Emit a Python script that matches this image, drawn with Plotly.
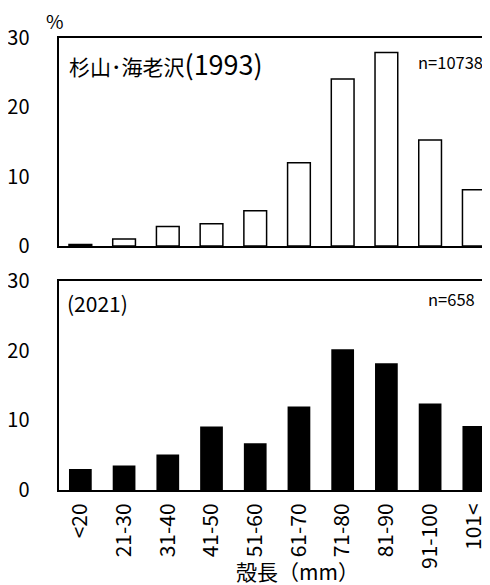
import plotly.graph_objects as go

categories = ["<20", "21-30", "31-40", "41-50", "51-60", "61-70", "71-80", "81-90", "91-100", "101<"]
values_1993 = [0.2, 1.0, 2.8, 3.2, 5.1, 12.0, 24.1, 27.9, 15.3, 8.1]
values_2021 = [3.0, 3.5, 5.1, 9.1, 6.7, 12.0, 20.2, 18.2, 12.4, 9.2]
y_ticks = [0, 10, 20, 30]

# page body has an 8px margin; figure sized to fill the remaining window
OFF = 8
W, H = 490 - OFF, 585 - OFF
FONT = "Noto Sans CJK JP, Noto Sans, sans-serif"

def px(x):
    return (x - OFF) / W

def py(y):
    return 1 - (y - OFF) / H

fig = go.Figure()
fig.add_trace(go.Bar(x=categories, y=values_1993, xaxis="x", yaxis="y",
                     marker=dict(color="white", line=dict(color="black", width=1.5)),
                     showlegend=False))
fig.add_trace(go.Bar(x=categories, y=values_2021, xaxis="x2", yaxis="y2",
                     marker=dict(color="black", line=dict(color="black", width=0)),
                     showlegend=False))

xrange = [-0.5, 9.37]
common_x = dict(type="category", range=xrange, showline=True, linecolor="black", linewidth=2,
                mirror=True, showgrid=False, ticks="", zeroline=False, automargin=False)
common_y = dict(range=[0, 30], tickvals=y_ticks, showline=True, linecolor="black", linewidth=2,
                showgrid=False, ticks="", zeroline=False, ticklabelstandoff=23, automargin=False,
                tickfont=dict(size=20, color="black", family=FONT))

fig.update_layout(
    width=W, height=H,
    margin=dict(l=0, r=0, t=0, b=0),
    paper_bgcolor="white", plot_bgcolor="white",
    bargap=0.48,
    font=dict(family=FONT, color="black"),
    xaxis=dict(domain=[px(58.5), 1], anchor="y", showticklabels=False, **common_x),
    yaxis=dict(domain=[py(246), py(38)], anchor="x", **common_y),
    xaxis2=dict(domain=[px(58.5), 1], anchor="y2", showticklabels=True, tickangle=-90,
                ticklabelstandoff=3,
                tickfont=dict(size=21, color="black", family=FONT), **common_x),
    yaxis2=dict(domain=[py(490), py(281)], anchor="x2", **common_y),
)

ann = [
    dict(text="%", x=px(54.5), y=py(20.5), size=19, xanchor="center"),
    dict(text="杉山･海老沢<span style='font-size:27px'>(1993)</span>", x=px(67), y=py(64), size=21, xanchor="left"),
    dict(text="n=10738", x=px(416), y=py(61.5), size=16.5, xanchor="left"),
    dict(text="(2021)", x=px(65), y=py(302.5), size=21, xanchor="left"),
    dict(text="n=658", x=px(426), y=py(298.5), size=16.5, xanchor="left"),
    dict(text="殻長（mm）", x=px(297.5), y=py(571), size=21, xanchor="center"),
]
for a in ann:
    fig.add_annotation(text=a["text"], x=a["x"], y=a["y"], xref="paper", yref="paper",
                       xanchor=a["xanchor"], yanchor="middle", showarrow=False,
                       font=dict(size=a["size"], color="black", family=FONT))

fig.write_html("out.html")
